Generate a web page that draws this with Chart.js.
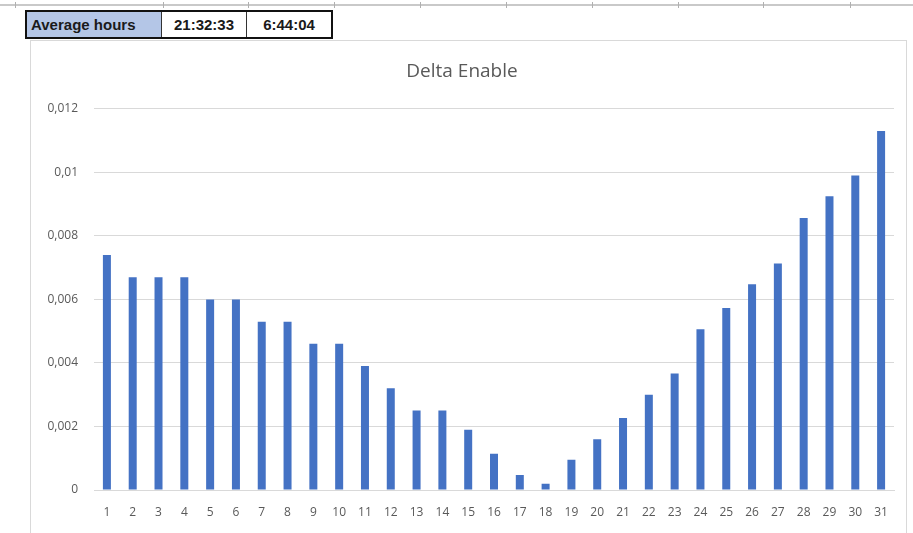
<!DOCTYPE html>
<html>
<head>
<meta charset="utf-8">
<script src="https://cdn.jsdelivr.net/npm/chart.js@4"></script>
<style>
  body { margin: 0; background: #fff; width: 913px; height: 533px; overflow: hidden; position: relative; }
  .sheet-line { position: absolute; left: 0; top: 4px; width: 913px; height: 2px; background: #c9c9c9; }
  .col-tick { position: absolute; top: 2px; width: 1px; height: 6px; background: #b0b0b0; }
  #summary { position: absolute; left: 25px; top: 10px; border-collapse: collapse; border: 2px solid #111;
             font-family: 'Liberation Sans Narrow', 'Arial Narrow', 'Liberation Sans', sans-serif; font-weight: bold; font-size: 15px; color: #1a1a1a; }
  #summary td { border: 1px solid #333; height: 25px; padding: 0 6px; text-align: center; }
  #summary td.head { background: #b4c6e7; width: 124px; text-align: left; padding-left: 4px; }
  #summary td.val { width: 72px; background: #fff; }
  .frame { position: absolute; left: 30px; top: 40px; width: 877px; height: 500px; border: 1px solid #d9d9d9; box-sizing: border-box; }
  .chart-box { position: absolute; left: 30px; top: 40px; width: 877px; height: 493px; }
</style>
</head>
<body>
<div class="sheet-line"></div>
<div id="ticks"></div>
<div class="frame"></div>
<table id="summary">
  <tr><td class="head">Average hours</td><td class="val">21:32:33</td><td class="val">6:44:04</td></tr>
</table>
<div class="chart-box"><canvas id="deltaChart"></canvas></div>
<script>
// Day of month and the delta value per day
const days = ['1','2','3','4','5','6','7','8','9','10','11','12','13','14','15','16',
              '17','18','19','20','21','22','23','24','25','26','27','28','29','30','31'];
const deltaValues = [0.0074, 0.0067, 0.0067, 0.0067, 0.0060, 0.0060, 0.0053, 0.0053, 0.0046, 0.0046,
                     0.0039, 0.0032, 0.0025, 0.0025, 0.0019, 0.00114, 0.00047, 0.0002, 0.00095, 0.0016,
                     0.00227, 0.0030, 0.00367, 0.00506, 0.00573, 0.00648, 0.00713, 0.00856, 0.00925, 0.0099, 0.0113];
const yTicks = [0, 0.002, 0.004, 0.006, 0.008, 0.01, 0.012];

// spreadsheet column marks along the top edge
const tickBox = document.getElementById('ticks');
[15, 163, 248, 334, 420, 506, 592, 678, 763, 850].forEach(function(x) {
    const t = document.createElement('div');
    t.className = 'col-tick';
    t.style.left = x + 'px';
    tickBox.appendChild(t);
});

const font = "'Open Sans', 'Noto Sans', sans-serif";

new Chart(document.getElementById('deltaChart').getContext('2d'), {
    type: 'bar',
    data: {
        labels: days,
        datasets: [{
            label: 'Delta Enable',
            data: deltaValues,
            backgroundColor: '#4472c4',
            barPercentage: 0.31,
            categoryPercentage: 1
        }]
    },
    options: {
        responsive: true,
        maintainAspectRatio: false,
        animation: false,
        layout: { padding: { left: 0, right: 13, top: 0, bottom: 0 } },
        plugins: {
            legend: { display: false },
            tooltip: { enabled: false },
            title: {
                display: true,
                text: 'Delta Enable',
                color: '#595959',
                font: { family: font, size: 19, weight: 'normal' },
                padding: { top: 20, bottom: 26 }
            }
        },
        scales: {
            x: {
                grid: { display: false, drawTicks: false },
                border: { color: '#d9d9d9' },
                ticks: { color: '#595959', font: { family: font, size: 12 }, padding: 15, maxRotation: 0, autoSkip: false },
                afterFit: function(scale) { scale.height = 43; }
            },
            y: {
                min: 0,
                max: 0.012,
                afterBuildTicks: function(scale) {
                    scale.ticks = yTicks.map(function(v) { return { value: v }; });
                },
                grid: { color: '#d9d9d9', drawTicks: false },
                border: { display: false },
                ticks: {
                    color: '#595959',
                    font: { family: font, size: 12 },
                    padding: 16,
                    callback: function(v) { return String(Number(v.toFixed(3))).replace('.', ','); }
                },
                afterFit: function(scale) { scale.width = 64; }
            }
        }
    }
});
</script>
</body>
</html>
